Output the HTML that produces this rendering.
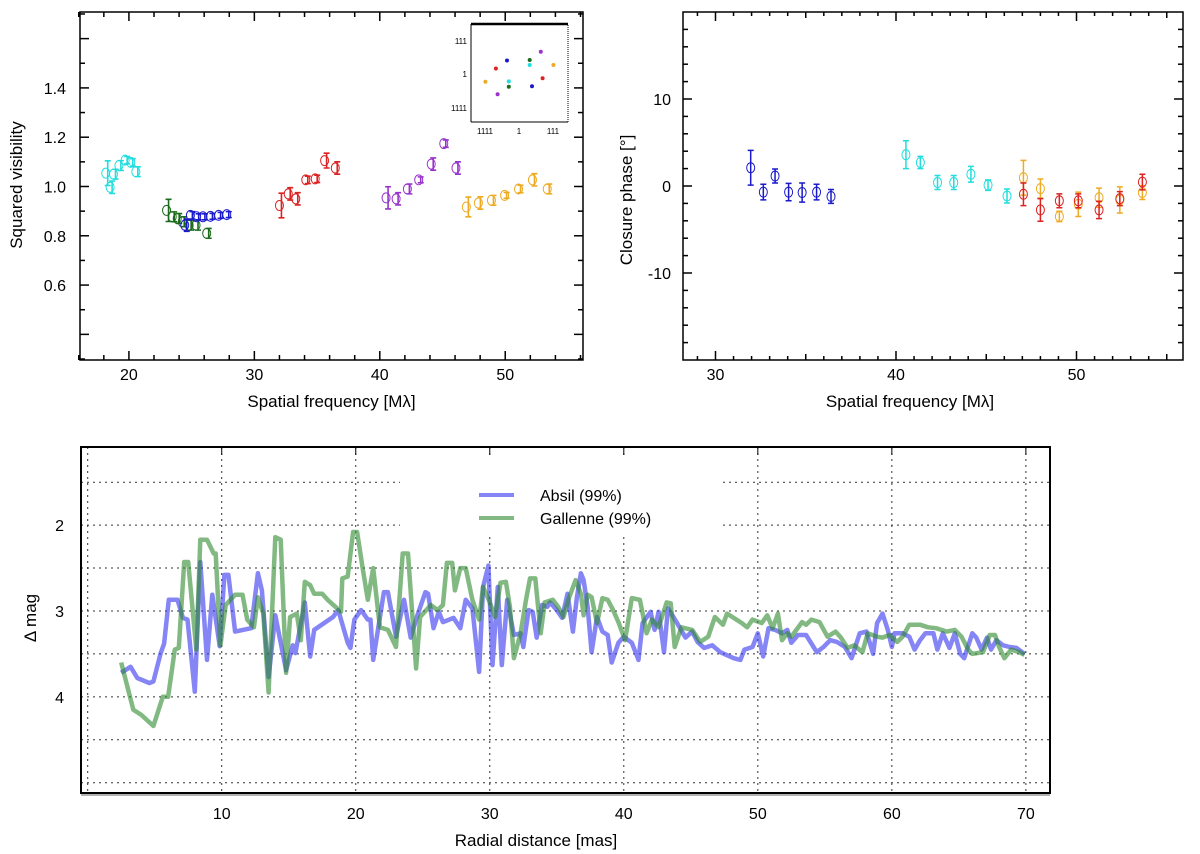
<!DOCTYPE html>
<html><head><meta charset="utf-8">
<style>
html,body{margin:0;padding:0;background:#fff;}
svg{display:block;font-family:"Liberation Sans",sans-serif;}
</style></head>
<body>
<svg id="fig" width="1200" height="854" viewBox="0 0 1200 854">
<g id="p1"></g>
<g id="p2"></g>
<g id="p3"></g>
</svg>
<script>
// ---------- Panel 1 data: squared visibility ----------
const v2Colors = ['#22dddd','#1a6b1a','#1a1acc','#dd2222','#9933cc','#eeaa22'];
const v2Freq = [
 [18.15,18.5,18.77,19.2,19.7,20.15,20.55],
 [23.0,23.45,23.85,24.25,24.8,25.35,26.2],
 [24.45,24.9,25.4,25.9,26.5,27.15,27.8],
 [32.0,32.7,33.3,34.1,34.85,35.6,36.45],
 [40.5,41.3,42.2,43.1,44.1,45.1,46.07],
 [46.9,47.86,48.9,49.95,51.06,52.17,53.35]];
const v2Val = [
 [1.054,0.997,1.05,1.085,1.107,1.098,1.06],
 [0.903,0.877,0.87,0.857,0.843,0.843,0.81],
 [0.843,0.883,0.877,0.877,0.879,0.883,0.886],
 [0.923,0.97,0.95,1.027,1.031,1.105,1.075],
 [0.954,0.95,0.99,1.027,1.091,1.174,1.075],
 [0.917,0.933,0.944,0.964,0.99,1.027,0.99]];
const v2Err = [
 [0.05,0.025,0.02,0.02,0.015,0.015,0.02],
 [0.045,0.02,0.02,0.02,0.02,0.02,0.02],
 [0.025,0.015,0.012,0.012,0.012,0.012,0.012],
 [0.05,0.025,0.025,0.015,0.015,0.03,0.025],
 [0.045,0.025,0.02,0.012,0.025,0.015,0.025],
 [0.04,0.025,0.02,0.012,0.015,0.025,0.02]];
const v2XTicks = [20,30,40,50];
const v2YTicks = [0.6,0.8,1.0,1.2,1.4];
const v2YLabels = ['0.6','0.8','1.0','1.2','1.4'];
// inset uv coverage
const uvU = [-1.2,1.07,2.18,1.07,3.44,-2.31,2.36,-3.36,-1.02,-1.02,1.3,-2.14];
const uvV = [1.35,1.4,2.22,0.9,0.9,0.55,-0.43,-0.78,-0.74,-1.27,-1.23,-2.03];
const uvCol = ['#1a1acc','#1a6b1a','#9933cc','#22dddd','#eeaa22','#dd2222','#dd2222','#eeaa22','#22dddd','#1a6b1a','#1a1acc','#9933cc'];

// ---------- Panel 2 data: closure phase ----------
const cpColors = ['#1a1acc','#22dddd','#eeaa22','#dd2222'];
const cpFreq = [
 [31.95,32.65,33.3,34.05,34.8,35.6,36.4],
 [40.55,41.35,42.3,43.2,44.15,45.1,46.15],
 [47.06,48.0,49.05,50.1,51.25,52.4,53.65],
 [47.06,48.0,49.05,50.1,51.25,52.4,53.65]];
const cpVal = [
 [2.1,-0.7,1.15,-0.7,-0.75,-0.7,-1.2],
 [3.6,2.7,0.4,0.4,1.35,0.1,-1.15],
 [0.95,-0.3,-3.5,-2.1,-1.35,-1.6,-0.75],
 [-0.95,-2.75,-1.7,-1.7,-2.75,-1.45,0.45]];
const cpErr = [
 [2.0,0.9,0.8,1.0,1.1,0.9,0.8],
 [1.6,0.7,0.8,0.8,0.9,0.6,0.8],
 [2.0,1.1,0.6,1.4,1.1,1.5,0.8],
 [1.3,1.3,0.8,0.8,1.0,0.8,0.9]];
const cpXTicks = [30,40,50];
const cpYTicks = [-10,0,10];

// ---------- Panel 3 data: detection limits ----------
const absilX = [2.5,3.2,3.7,4.6,4.9,5.45,5.7,6.05,6.7,7.1,7.45,7.99,8.4,8.9,9.3,9.85,10.2,10.5,11.0,12.2,12.7,13.0,13.5,14.0,14.8,15.3,15.5,16.2,16.6,16.9,18.3,18.7,19.4,19.6,19.9,20.4,20.9,21.1,21.3,22.1,22.4,23.0,23.6,24.1,24.6,25.2,25.4,25.8,26.2,26.5,27.3,27.8,28.2,28.7,29.2,29.5,29.9,30.2,30.6,30.9,31.3,31.8,32.3,32.5,32.9,33.2,33.5,33.9,34.3,34.5,35.0,35.4,35.8,36.2,36.5,36.8,37.0,37.3,37.6,38.0,38.4,38.8,39.1,39.6,40.0,40.6,41.1,41.4,42.0,42.3,42.6,43.0,43.3,43.7,44.2,44.6,45.1,45.5,46.0,46.6,47.2,48.2,48.7,49.0,49.6,50.0,50.4,50.8,51.3,51.8,52.2,52.5,53.0,53.6,54.4,54.9,55.4,55.9,56.5,57.0,57.6,58.1,58.6,58.9,59.3,59.7,60.0,60.2,60.8,61.3,61.7,62.1,62.5,63.1,63.4,63.8,64.3,64.7,65.1,65.4,66.0,66.3,66.7,67.1,67.4,67.8,68.3,68.8,69.3,69.9];
const absilY = [3.72,3.65,3.78,3.84,3.82,3.49,3.38,2.87,2.87,3.08,3.1,3.94,2.43,3.57,2.81,3.41,2.58,2.58,3.24,3.2,2.56,2.76,3.77,3.05,3.69,3.4,3.49,2.9,3.53,3.22,3.07,2.99,3.37,3.43,3.1,2.99,3.1,3.1,3.57,2.78,2.78,3.3,2.87,3.31,3.05,2.78,2.8,3.2,3.01,3.13,3.08,3.2,2.87,2.97,3.71,2.72,2.47,3.63,2.72,3.63,2.87,3.28,3.26,3.42,2.99,3.01,3.31,2.93,2.95,2.9,2.99,3.08,2.8,3.24,2.84,2.56,2.64,2.95,3.48,3.07,3.24,3.28,3.6,3.37,3.3,3.37,3.57,3.14,3.01,3.22,3.01,3.48,2.97,3.07,3.2,3.31,3.24,3.36,3.43,3.4,3.48,3.55,3.57,3.45,3.42,3.26,3.53,3.2,3.22,3.26,3.22,3.37,3.28,3.28,3.48,3.42,3.34,3.36,3.42,3.55,3.26,3.24,3.5,3.14,3.03,3.22,3.42,3.26,3.26,3.3,3.45,3.34,3.26,3.26,3.45,3.26,3.43,3.26,3.5,3.55,3.26,3.31,3.45,3.31,3.45,3.34,3.4,3.42,3.43,3.5];
const galX = [2.5,3.4,4.0,4.9,5.6,6.0,6.5,6.8,7.2,7.5,8.1,8.4,8.9,9.4,9.55,9.9,10.3,11.0,11.55,11.9,12.4,12.7,13.1,13.5,14.0,14.4,14.8,15.1,15.6,15.9,16.2,16.6,16.9,17.5,17.9,18.9,19.0,19.4,19.8,20.1,20.5,20.9,21.3,21.8,22.4,23.0,23.5,23.9,24.5,24.8,25.6,26.1,26.5,26.8,27.2,27.4,27.8,28.2,28.7,29.2,29.5,30.0,30.4,30.8,31.2,31.5,31.8,32.3,32.7,33.0,33.4,33.8,34.1,34.7,35.1,35.5,35.9,36.4,36.8,37.0,37.3,37.6,38.0,38.4,38.8,39.2,39.6,40.1,40.6,41.2,41.7,42.1,42.6,43.2,43.5,43.8,44.3,45.1,45.7,46.3,46.8,47.4,47.7,48.2,48.8,49.2,49.6,50.3,50.7,51.1,51.5,51.8,52.2,52.5,53.3,53.6,54.0,54.6,55.2,55.8,56.2,56.7,57.2,57.8,58.2,58.9,59.3,59.8,60.4,60.8,61.3,62.1,62.7,63.3,64.1,64.7,65.2,65.7,66.0,66.8,67.3,67.7,68.0,68.4,68.9,69.5,69.9];
const galY = [3.6,4.15,4.21,4.34,4.0,4.0,3.45,3.43,2.43,2.43,3.45,2.17,2.17,2.33,2.33,3.4,2.93,2.81,2.81,3.1,3.19,2.84,3.03,3.95,2.14,2.17,3.72,3.07,3.03,3.34,2.66,2.7,2.8,2.8,2.87,3.01,2.62,2.6,2.08,2.08,2.49,2.87,2.5,3.19,3.22,3.42,2.33,2.33,3.67,3.07,2.93,2.99,2.93,2.44,2.44,2.76,2.5,2.5,2.87,3.1,2.72,2.9,3.07,2.67,2.66,2.95,3.55,3.26,2.87,2.62,2.62,3.26,2.9,2.87,2.95,3.07,2.85,2.64,2.8,3.05,2.81,2.84,3.14,2.85,2.87,2.99,3.13,3.34,2.85,2.87,3.26,3.1,3.19,2.9,2.91,3.42,3.19,3.22,3.36,3.3,3.07,3.16,3.03,3.08,3.14,3.19,3.1,3.14,3.05,3.2,3.03,3.34,3.26,3.3,3.13,3.16,3.1,3.13,3.3,3.24,3.31,3.43,3.4,3.48,3.26,3.3,3.31,3.28,3.36,3.3,3.16,3.16,3.19,3.2,3.24,3.22,3.3,3.45,3.5,3.48,3.28,3.28,3.42,3.55,3.45,3.48,3.51];
const dmXTicks = [10,20,30,40,50,60,70];
const dmYTicks = [2,3,4];
const dmGrid = [1.5,2,2.5,3,3.5,4,4.5,5];

const NS='http://www.w3.org/2000/svg';
function mk(parent,tag,attrs){const e=document.createElementNS(NS,tag);for(const k in attrs)e.setAttribute(k,attrs[k]);parent.appendChild(e);return e;}
function lin(d0,d1,r0,r1){return v=>r0+(v-d0)*(r1-r0)/(d1-d0);}

// ===== Panel 1 =====
(function(){
 const g=document.getElementById('p1');
 const L=80,R=583,T=12,B=360;
 const x=lin(16.1,56.2,L,R), y=lin(0.296,1.708,B,T);
 let e;
 e=mk(g,'rect',{x:L,y:T,width:R-L,height:B-T,fill:'none',stroke:'#000','stroke-width':1.5});
 
 for(let v=16;v<=56;v+=2){const X=x(v);const big=v%10===0;const len=big?9:5;
  e=mk(g,'line',{x1:X,y1:B,x2:X,y2:B-len,stroke:'#000','stroke-width':1.5});
  e=mk(g,'line',{x1:X,y1:T,x2:X,y2:T+len,stroke:'#000','stroke-width':1.5});}
 for(let i=3;i<=17;i++){const v=i/10;const Y=y(v);const big=i%2===0;const len=big?9:5;
  e=mk(g,'line',{x1:L,y1:Y,x2:L+len,y2:Y,stroke:'#000','stroke-width':1.5});
  e=mk(g,'line',{x1:R,y1:Y,x2:R-len,y2:Y,stroke:'#000','stroke-width':1.5});}
 v2XTicks.forEach(v=>{e=mk(g,'text',{x:x(v),y:B+20,'text-anchor':'middle','font-size':16});e.textContent=v;});
 v2YTicks.forEach((v,i)=>{e=mk(g,'text',{x:L-14,y:y(v)+6,'text-anchor':'end','font-size':16});e.textContent=v2YLabels[i];});
 e=mk(g,'text',{x:(L+R)/2,y:B+47,'text-anchor':'middle','font-size':17});e.textContent='Spatial frequency [Mλ]';
 e=mk(g,'text',{x:22,y:185,'text-anchor':'middle','font-size':17,transform:'rotate(-90 22 185)'});e.textContent='Squared visibility';
 v2Freq.forEach((fs,s)=>{const c=v2Colors[s];
  fs.forEach((f,i)=>{const X=x(f),Yv=y(v2Val[s][i]),y1=y(v2Val[s][i]+v2Err[s][i]),y2=y(v2Val[s][i]-v2Err[s][i]);const ox=X+2;
   e=mk(g,'path',{d:`M${ox},${y1}V${y2}M${ox-3},${y1}H${ox+3}M${ox-3},${y2}H${ox+3}`,stroke:c,'stroke-width':1.6,fill:'none'});
   e=mk(g,'ellipse',{cx:X,cy:Yv,rx:4,ry:5,fill:'none',stroke:c,'stroke-width':1});});});
 // inset
 const iL=471,iR=568,iT=24,iB=122;
 const ux=lin(0,1,519,529), vy=lin(0,1,74,64);
 e=mk(g,'rect',{x:iL,y:iT,width:iR-iL,height:iB-iT,fill:'#fff',stroke:'#000','stroke-width':1,'stroke-dasharray':'1,1'});
 e=mk(g,'line',{x1:iL,y1:iT,x2:iR,y2:iT,stroke:'#000','stroke-width':2.5});
 e=mk(g,'line',{x1:iL,y1:iT,x2:iL,y2:iB,stroke:'#000','stroke-width':1});
 e=mk(g,'line',{x1:iL,y1:iB,x2:iR,y2:iB,stroke:'#000','stroke-width':1});
 [[3.3,'111'],[0,'1'],[-3.4,'1111']].forEach(p=>{e=mk(g,'text',{x:iL-4,y:vy(p[0])+3,'text-anchor':'end','font-size':8});e.textContent=p[1];});
 [[-3.4,'1111'],[0,'1'],[3.4,'111']].forEach(p=>{e=mk(g,'text',{x:ux(p[0]),y:iB+12,'text-anchor':'middle','font-size':8});e.textContent=p[1];});
 uvU.forEach((u,i)=>{e=mk(g,'circle',{cx:ux(u),cy:vy(uvV[i]),r:2,fill:uvCol[i]});});
})();

// ===== Panel 2 =====
(function(){
 const g=document.getElementById('p2');
 const L=683,R=1183,T=12,B=360;
 const x=lin(28.2,55.9,L,R), y=lin(-20,20,B,T);
 let e;
 e=mk(g,'rect',{x:L,y:T,width:R-L,height:B-T,fill:'none',stroke:'#000','stroke-width':1.5});
 for(let v=29;v<=55;v++){const X=x(v);const len=v%10===0?9:(v%5===0?6:4);
  e=mk(g,'line',{x1:X,y1:B,x2:X,y2:B-len,stroke:'#000','stroke-width':1.5});
  e=mk(g,'line',{x1:X,y1:T,x2:X,y2:T+len,stroke:'#000','stroke-width':1.5});}
 for(let v=-18;v<=18;v+=2){const Y=y(v);const len=v%10===0?9:5;
  e=mk(g,'line',{x1:L,y1:Y,x2:L+len,y2:Y,stroke:'#000','stroke-width':1.5});
  e=mk(g,'line',{x1:R,y1:Y,x2:R-len,y2:Y,stroke:'#000','stroke-width':1.5});}
 cpXTicks.forEach(v=>{e=mk(g,'text',{x:x(v),y:B+20,'text-anchor':'middle','font-size':16});e.textContent=v;});
 cpYTicks.forEach(v=>{e=mk(g,'text',{x:L-12,y:y(v)+6,'text-anchor':'end','font-size':16});e.textContent=v;});
 e=mk(g,'text',{x:(L+R)/2-23,y:B+47,'text-anchor':'middle','font-size':17});e.textContent='Spatial frequency [Mλ]';
 e=mk(g,'text',{x:632,y:200,'text-anchor':'middle','font-size':17,transform:'rotate(-90 632 200)'});e.textContent='Closure phase [°]';
 cpFreq.forEach((fs,s)=>{const c=cpColors[s];
  fs.forEach((f,i)=>{const X=x(f),Yv=y(cpVal[s][i]),y1=y(cpVal[s][i]+cpErr[s][i]),y2=y(cpVal[s][i]-cpErr[s][i]);
   e=mk(g,'path',{d:`M${X},${y1}V${y2}M${X-3},${y1}H${X+3}M${X-3},${y2}H${X+3}`,stroke:c,'stroke-width':1.5,fill:'none'});
   e=mk(g,'ellipse',{cx:X,cy:Yv,rx:4,ry:5,fill:'none',stroke:c,'stroke-width':1});});});
})();

// ===== Panel 3 =====
(function(){
 const g=document.getElementById('p3');
 const L=81,R=1050,T=447,B=793;
 const x=lin(-0.5,71.8,L,R), y=lin(1.09,5.12,T,B);
 let e;
 const gridG=mk(g,'g',{});
 
 [0].concat(dmXTicks).forEach(v=>{e=mk(gridG,'line',{x1:x(v),y1:T,x2:x(v),y2:B,stroke:'#333','stroke-width':1,'stroke-dasharray':'2,4'});});
 dmGrid.forEach(v=>{e=mk(gridG,'line',{x1:L,y1:y(v),x2:R,y2:y(v),stroke:'#333','stroke-width':1,'stroke-dasharray':'2,4'});});
 dmXTicks.forEach(v=>{e=mk(g,'line',{x1:x(v),y1:T,x2:x(v),y2:T+8,stroke:'#000','stroke-width':1});});
 const pts=(xs,ys)=>xs.map((v,i)=>x(v).toFixed(1)+','+y(ys[i]).toFixed(1)).join(' ');
 e=mk(g,'polyline',{points:pts(absilX,absilY),fill:'none',stroke:'#3333ee','stroke-opacity':0.6,'stroke-width':4.5,'stroke-linejoin':'round'});
 e=mk(g,'polyline',{points:pts(galX,galY),fill:'none',stroke:'#2e8b2e','stroke-opacity':0.6,'stroke-width':4.5,'stroke-linejoin':'round'});
 // legend
 const lg=mk(g,'g',{});
 e=mk(lg,'rect',{x:400,y:455,width:322,height:82,fill:'#fff'});
 e=mk(lg,'line',{x1:479,y1:495,x2:514,y2:495,stroke:'#3333ee','stroke-opacity':0.6,'stroke-width':4});
 e=mk(lg,'text',{x:540,y:501,'font-size':16});e.textContent='Absil (99%)';
 e=mk(lg,'line',{x1:479,y1:518,x2:514,y2:518,stroke:'#2e8b2e','stroke-opacity':0.6,'stroke-width':4});
 e=mk(lg,'text',{x:540,y:524,'font-size':16});e.textContent='Gallenne (99%)';
 e=mk(g,'rect',{x:L,y:T,width:R-L,height:B-T,fill:'none',stroke:'#000','stroke-width':2});
 e=mk(g,'line',{x1:L,y1:B+2,x2:R,y2:B+2,stroke:'#999','stroke-width':1.5});
 dmXTicks.forEach(v=>{e=mk(g,'text',{x:x(v),y:B+26,'text-anchor':'middle','font-size':16});e.textContent=v;});
 dmYTicks.forEach(v=>{e=mk(g,'text',{x:64,y:y(v)+6,'text-anchor':'end','font-size':16});e.textContent=v;});
 e=mk(g,'text',{x:536,y:846,'text-anchor':'middle','font-size':17});e.textContent='Radial distance [mas]';
 e=mk(g,'text',{x:36,y:618,'text-anchor':'middle','font-size':17,transform:'rotate(-90 36 618)'});e.textContent='Δ mag';
})();
</script>
</body></html>
